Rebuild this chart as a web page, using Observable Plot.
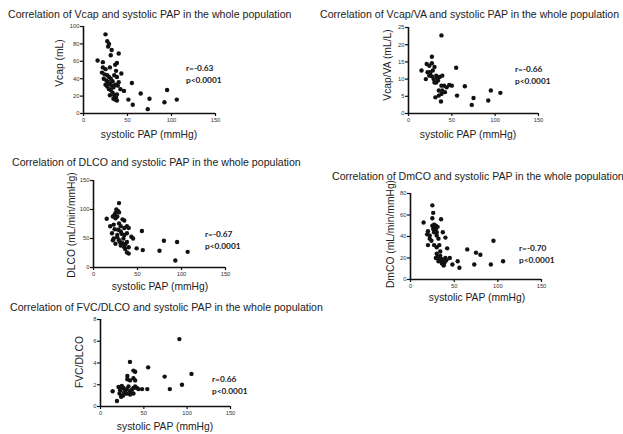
<!DOCTYPE html>
<html>
<head>
<meta charset="utf-8">
<script src="https://cdn.jsdelivr.net/npm/d3@7"></script>
<script src="https://cdn.jsdelivr.net/npm/@observablehq/plot@0.6"></script>
<style>
  html, body { margin: 0; padding: 0; background: #fff; }
  #root { position: relative; width: 623px; height: 434px; overflow: hidden; background: #fff; font-family: "Liberation Sans", Arial, sans-serif; color: #222; }
  .title { position: absolute; font-size: 10.6px; line-height: 12px; white-space: nowrap; transform: translateY(-50%); color: #222; }
  .xlab { position: absolute; font-size: 10.3px; line-height: 12px; white-space: nowrap; transform: translate(-50%, -50%); color: #222; }
  .ylab { position: absolute; font-size: 10.3px; line-height: 12px; white-space: nowrap; transform: translate(-50%, -50%) rotate(-90deg); color: #222; }
  .stat { position: absolute; font-family: Lato, "Open Sans", sans-serif; font-weight: bold; font-size: 8.3px; line-height: 12px; white-space: nowrap; color: #1a1a1a; }
  .panel svg { position: absolute; }
</style>
</head>
<body>
<div id="root"></div>
<script>
// ---------- data ----------
const xTicks = [0, 50, 100, 150];

// Panel 1: Vcap
const papVcap = [25,27,29,28,32,40,31,16,22,38,36,22,25,30,37,43,21,24,27,29,31,23,26,28,33,35,38,30,32,25,27,34,29,31,36,40,55,39,42,46,33,35,37,36,38,34,30,38,51,65,75,56,73,95,92,106];
const vcap    = [91,83,80,77,73,69,67,61,59,58,56,53,51,53,49,46,47,45,44,42,40,40,38,36,37,44,42,34,32,33,31,30,28,27,33,36,35,32,28,26,24,21,19,16,15,17,21,22,16,23,17,10,5,27,13,16];
const vcapTicks = [0, 20, 40, 60, 80, 100];

// Panel 2: Vcap/VA
const papVA  = [38,27,15,21,24,27,30,55,20,22,25,28,32,36,39,32,34,38,41,44,47,50,35,39,42,38,31,35,37.5,65,56,75,73,95,92,106,25,29,33,30,27,24];
const vcapVA = [22.7,16.5,12.5,14.4,13.9,14.6,13.5,13.3,10,12,11.5,12.5,11,10.6,11,9,9.6,8.1,8.1,7.6,8.3,8.1,6.7,6.7,6.2,5.7,4.7,5.2,3.5,7.9,5.2,4.5,2.5,6.7,3.8,6,12,10,10.3,9,10.8,11];
const vcapVATicks = [0, 5, 10, 15, 20, 25];

// Panel 3: DLCO
const papDLCO = [29,26,28,25,29,24,22,25,27,15,33,35,19,23,29,31,35,38,40,55,21,27,31,35,38,23,29,34,38,43,45,22,25,31,35,36,40,38,40,49,56,75,80,95,107,93,28,32,30,33,36,27,24];
const dlco    = [111,100,97,94,95,91,88,85,88,84,83,81,71,74,76,71,68,71,68,63,59,56,62,56,59,50,47,50,44,53,50,47,41,38,35,32,35,26,24,33,30,29,46,44,27,12,65,58,44,42,40,52,66];
const dlcoTicks = [0, 50, 100, 150];

// Panel 4: DmCO
const papDm = [25,26,25,35,15,20,19,22,25,28,26,29,27,30,37,40,20,22,24,30,32,27,30,33,42,30,34,45,54,48,56,65,75,80,73,95,92,106,31,33,35,36,38,37,39,34,40,36,38,32,29,41,27,29,31,28];
const dmco  = [69,62,57,56,53,45,42,41,50,48,47,47,44,44,44,39,32,38,36,41,38,32,30,32,29,24,26,20,17,14,11,28,25,23,14,36,14,17,21,19,17,15,14,18,16,22,20,19,13,17,20,18,51,50,49,45];
const dmcoTicks = [0, 20, 40, 60, 80];

// Panel 5: FVC/DLCO
const papFVC = [91,34,55,38,40,74,105,94,80,54,48,31,38,40,31,34,14,19,20.8,22.7,24.6,26.5,28.5,30.4,32.3,34.2,36.2,38,40,42,43.8,22,25.8,28.5,30.4,34.2,38,22.7,27.3,23.8];
const fvcDlco = [6.2,4.1,3.6,3.3,3.2,2.75,3.0,2.0,1.6,1.6,1.6,2.8,2.6,2.4,2.5,2.4,1.4,0.5,1.8,1.6,1.9,1.7,1.5,1.6,1.85,1.4,1.55,1.7,1.85,1.7,1.6,1.2,1.0,1.2,1.2,1.1,1.2,1.5,1.3,0.9];
const fvcTicks = [0, 2, 4, 6, 8];

const titles = [
  "Correlation of Vcap and systolic PAP in the whole population",
  "Correlation of Vcap/VA and systolic PAP in the whole population",
  "Correlation of DLCO and systolic PAP in the whole population",
  "Correlation of DmCO and systolic PAP in the whole population",
  "Correlation of FVC/DLCO and systolic PAP in the whole population"
];
const yLabels = ["Vcap (mL)", "Vcap/VA (mL/L)", "DLCO (mL/min/mmHg)", "DmCO (mL/min/mmHg)", "FVC/DLCO"];
const xLabel = "systolic PAP (mmHg)";
const rValues = ["r=-0.63", "r=-0.66", "r=-0.67", "r=-0.70", "r=0.66"];
const pValue = "p<0.0001";

// ---------- layout (positions only) ----------
const panels = [
  {x: papVcap, y: vcap,    yt: vcapTicks,   fx: 83,  fy: 26,  fw: 132, fh: 87, tx: 8,   ty: 14,  ylx: 60,  yly: 63,  xlx: 149, xly: 135, rx: 186, ry: 62},
  {x: papVA,   y: vcapVA,  yt: vcapVATicks, fx: 408, fy: 27,  fw: 130, fh: 86, tx: 320, ty: 14,  ylx: 388, yly: 65,  xlx: 468, xly: 135, rx: 515, ry: 63},
  {x: papDLCO, y: dlco,    yt: dlcoTicks,   fx: 93,  fy: 180, fw: 132, fh: 87, tx: 12,  ty: 162, ylx: 72,  yly: 225, xlx: 160, xly: 287, rx: 205, ry: 228},
  {x: papDm,   y: dmco,    yt: dmcoTicks,   fx: 410, fy: 193, fw: 131, fh: 86, tx: 332, ty: 176, ylx: 391, yly: 234, xlx: 477, xly: 298, rx: 519, ry: 242},
  {x: papFVC,  y: fvcDlco, yt: fvcTicks,    fx: 100, fy: 319, fw: 130, fh: 87, tx: 10,  ty: 307, ylx: 80,  yly: 362, xlx: 165, xly: 427, rx: 212, ry: 373}
];

const root = document.getElementById("root");
const mL = 22, mR = 8, mT = 6, mB = 14;

panels.forEach((p, i) => {
  const wrap = document.createElement("div");
  wrap.className = "panel";
  root.appendChild(wrap);

  const data = p.x.map((xv, j) => ({pap: xv, v: p.y[j]}));
  const yMax = p.yt[p.yt.length - 1];

  const chart = Plot.plot({
    width: p.fw + mL + mR,
    height: p.fh + mT + mB,
    marginLeft: mL, marginRight: mR, marginTop: mT, marginBottom: mB,
    style: {fontFamily: "Liberation Sans, Arial, sans-serif", fontSize: "5.8px", color: "#333", background: "transparent", overflow: "visible"},
    x: {domain: [0, 150]},
    y: {domain: [0, yMax]},
    marks: [
      Plot.axisX({ticks: xTicks, tickSize: 3, tickPadding: 1, label: null, stroke: "#111", strokeWidth: 1.2}),
      Plot.axisY({ticks: p.yt, tickSize: 3, tickPadding: 1, label: null, stroke: "#111", strokeWidth: 1.2}),
      Plot.ruleY([0], {stroke: "#111", strokeWidth: 1.6}),
      Plot.ruleX([0], {stroke: "#111", strokeWidth: 1.6}),
      Plot.dot(data, {x: "pap", y: "v", r: 2.2, fill: "#111", stroke: "none"})
    ]
  });
  chart.style.left = (p.fx - mL) + "px";
  chart.style.top = (p.fy - mT) + "px";
  wrap.appendChild(chart);

  const t = document.createElement("div");
  t.className = "title"; t.textContent = titles[i];
  t.style.left = p.tx + "px"; t.style.top = p.ty + "px";
  wrap.appendChild(t);

  const yl = document.createElement("div");
  yl.className = "ylab"; yl.textContent = yLabels[i];
  yl.style.left = p.ylx + "px"; yl.style.top = p.yly + "px";
  wrap.appendChild(yl);

  const xl = document.createElement("div");
  xl.className = "xlab"; xl.textContent = xLabel;
  xl.style.left = p.xlx + "px"; xl.style.top = p.xly + "px";
  wrap.appendChild(xl);

  const s = document.createElement("div");
  s.className = "stat";
  s.innerHTML = rValues[i] + "<br>" + pValue;
  s.style.left = p.rx + "px"; s.style.top = p.ry + "px";
  wrap.appendChild(s);
});
</script>
</body>
</html>
